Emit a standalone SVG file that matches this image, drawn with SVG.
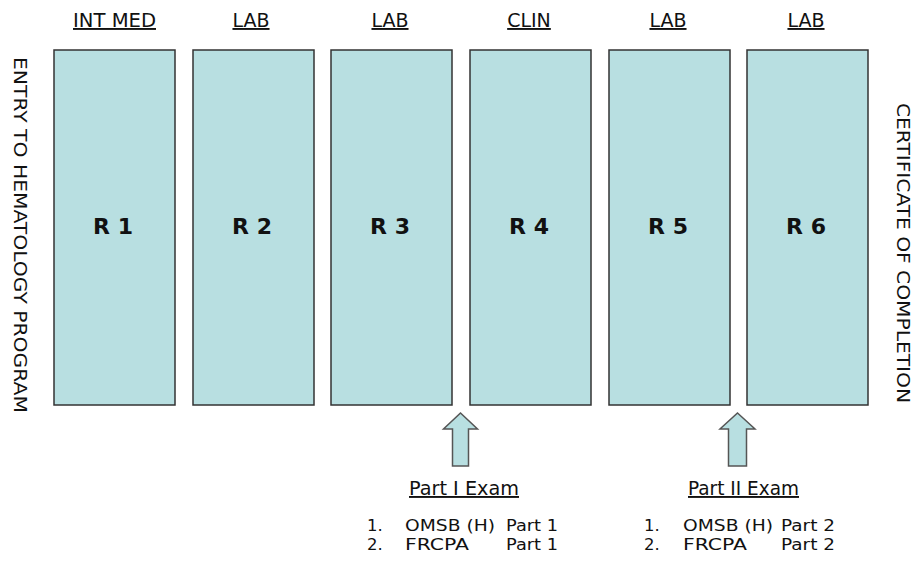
<svg xmlns="http://www.w3.org/2000/svg" width="917" height="564" viewBox="0 0 917 564">
<style>
text{font-family:"DejaVu Sans","Liberation Sans",sans-serif;fill:#111}
.hdr{font-size:19px;text-anchor:middle;text-decoration:underline}
.lbl{font-size:22px;font-weight:bold;text-anchor:middle}
.box{fill:#b8dfe1;stroke:#333;stroke-width:1.5}
.arr{fill:#b8dfe1;stroke:#555;stroke-width:1.5;stroke-linejoin:miter}
.side{font-size:18px}
.exam{font-size:19px;text-decoration:underline}
.li{font-size:16.5px}
</style>
<rect width="917" height="564" fill="#fff"/>
<g id="r1"><text class="hdr" x="114.5" y="27" textLength="83" lengthAdjust="spacingAndGlyphs">INT MED</text><rect class="box" x="54" y="50" width="121" height="355"/><text class="lbl" x="113" y="234">R 1</text></g>
<g id="r2"><text class="hdr" x="251" y="27">LAB</text><rect class="box" x="193" y="50" width="121" height="355"/><text class="lbl" x="252" y="234">R 2</text></g>
<g id="r3"><text class="hdr" x="390" y="27">LAB</text><rect class="box" x="331" y="50" width="121" height="355"/><text class="lbl" x="390" y="234">R 3</text></g>
<g id="r4"><text class="hdr" x="529" y="27">CLIN</text><rect class="box" x="470" y="50" width="121" height="355"/><text class="lbl" x="529" y="234">R 4</text></g>
<g id="r5"><text class="hdr" x="668" y="27">LAB</text><rect class="box" x="609" y="50" width="121" height="355"/><text class="lbl" x="668" y="234">R 5</text></g>
<g id="r6"><text class="hdr" x="806" y="27">LAB</text><rect class="box" x="747" y="50" width="121" height="355"/><text class="lbl" x="806" y="234">R 6</text></g>
<g id="entry"><text class="side" transform="translate(14,57) rotate(90)" textLength="356" lengthAdjust="spacingAndGlyphs">ENTRY TO HEMATOLOGY PROGRAM</text></g>
<g id="cert"><text class="side" transform="translate(897,103) rotate(90)" textLength="300" lengthAdjust="spacingAndGlyphs">CERTIFICATE OF COMPLETION</text></g>
<g id="connectors">
<path class="arr" d="M460.5,413 L477.5,429 L468.5,429 L468.5,466 L452.5,466 L452.5,429 L443.5,429 Z"/>
<path class="arr" d="M737.5,413 L755,429 L746.5,429 L746.5,466 L728.5,466 L728.5,429 L720,429 Z"/>
</g>
<g id="exam1">
<text class="exam" x="409" y="495" textLength="110" lengthAdjust="spacingAndGlyphs">Part I Exam</text>
<text class="li" x="367" y="531">1.</text><text class="li" x="405" y="531" textLength="90" lengthAdjust="spacingAndGlyphs">OMSB (H)</text><text class="li" x="506" y="531" textLength="52" lengthAdjust="spacingAndGlyphs">Part 1</text>
<text class="li" x="367" y="550">2.</text><text class="li" x="405" y="550" textLength="64" lengthAdjust="spacingAndGlyphs">FRCPA</text><text class="li" x="506" y="550" textLength="52" lengthAdjust="spacingAndGlyphs">Part 1</text>
</g>
<g id="exam2">
<text class="exam" x="688" y="495" textLength="111" lengthAdjust="spacingAndGlyphs">Part II Exam</text>
<text class="li" x="644" y="531">1.</text><text class="li" x="683" y="531" textLength="90" lengthAdjust="spacingAndGlyphs">OMSB (H)</text><text class="li" x="781" y="531" textLength="54" lengthAdjust="spacingAndGlyphs">Part 2</text>
<text class="li" x="644" y="550">2.</text><text class="li" x="683" y="550" textLength="64" lengthAdjust="spacingAndGlyphs">FRCPA</text><text class="li" x="781" y="550" textLength="54" lengthAdjust="spacingAndGlyphs">Part 2</text>
</g>
</svg>
